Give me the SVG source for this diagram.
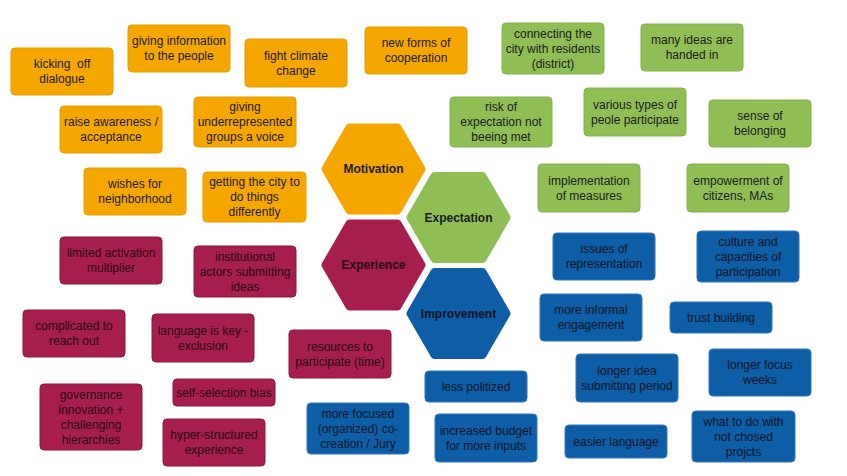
<svg xmlns="http://www.w3.org/2000/svg" xmlns:xlink="http://www.w3.org/1999/xlink" width="847" height="476" viewBox="0 0 847 476">
<style>
.box{stroke-width:1}
.o{fill:#F5A700;stroke:#E79C00}
.g{fill:#8FBE55;stroke:#83B14A}
.r{fill:#A61E4D;stroke:#8C173F}
.b{fill:#0E5DA7;stroke:#2F78BF}
.hx{stroke-width:8;stroke-linejoin:round}
.ho{fill:#F5A700;stroke:#F5A700}
.hg{fill:#8FBE55;stroke:#8FBE55}
.hr{fill:#A61E4D;stroke:#A61E4D}
.hb{fill:#0E5DA7;stroke:#0E5DA7}
text{font-family:"Liberation Sans",Arial,sans-serif;font-size:12px;text-anchor:middle;fill:#1b1b1b}
.rt{fill:#2a0a12}
.bt{fill:#0b1526}
.hl{font-weight:bold;font-size:12px}
</style>
<defs>
<polygon id="hex" points="-48,0 -24,-41.6 24,-41.6 48,0 24,41.6 -24,41.6"/>
</defs>
<rect width="847" height="476" fill="#ffffff"/>
<g id="connectors"/>

<g id="hex-motivation"><use href="#hex" x="373.5" y="169" class="hx ho"/><text class="hl" x="373.5" y="173.3">Motivation</text></g>
<g id="hex-expectation"><use href="#hex" x="458.5" y="217.5" class="hx hg"/><text class="hl" x="458.5" y="221.8">Expectation</text></g>
<g id="hex-experience"><use href="#hex" x="373.5" y="265" class="hx hr"/><text class="hl rt" x="373.5" y="269.3">Experience</text></g>
<g id="hex-improvement"><use href="#hex" x="458.5" y="313.5" class="hx hb"/><text class="hl bt" x="458.5" y="317.8">Improvement</text></g>

<g id="n-kicking"><rect class="box o" x="11" y="48" width="102" height="47" rx="4"/><text x="62" y="68.3" xml:space="preserve">kicking  off</text><text x="62" y="83.3">dialogue</text></g>
<g id="n-info"><rect class="box o" x="128" y="25" width="102" height="47" rx="4"/><text x="179" y="45.3">giving information</text><text x="179" y="60.3">to the people</text></g>
<g id="n-climate"><rect class="box o" x="245" y="39" width="102" height="48" rx="4"/><text x="296" y="59.8">fight climate</text><text x="296" y="74.8">change</text></g>
<g id="n-coop"><rect class="box o" x="365" y="27" width="102" height="47" rx="4"/><text x="416" y="47.3">new forms of</text><text x="416" y="62.3">cooperation</text></g>
<g id="n-awareness"><rect class="box o" x="60" y="106" width="102" height="47" rx="4"/><text x="111" y="126.3">raise awareness /</text><text x="111" y="141.3">acceptance</text></g>
<g id="n-voice"><rect class="box o" x="194" y="97" width="102" height="50" rx="4"/><text x="245" y="111.3">giving</text><text x="245" y="126.3">underrepresented</text><text x="245" y="141.3">groups a voice</text></g>
<g id="n-wishes"><rect class="box o" x="84" y="168" width="102" height="47" rx="4"/><text x="135" y="188.3">wishes for</text><text x="135" y="203.3">neighborhood</text></g>
<g id="n-city"><rect class="box o" x="203" y="172" width="103" height="50" rx="4"/><text x="254.5" y="186.3">getting the city to</text><text x="254.5" y="201.3">do things</text><text x="254.5" y="216.3">differently</text></g>

<g id="n-connecting"><rect class="box g" x="502" y="23" width="102" height="51" rx="4"/><text x="553" y="37.8">connecting the</text><text x="553" y="52.8">city with residents</text><text x="553" y="67.8">(district)</text></g>
<g id="n-many"><rect class="box g" x="641" y="24" width="102" height="47" rx="4"/><text x="692" y="44.3">many ideas are</text><text x="692" y="59.3">handed in</text></g>
<g id="n-risk"><rect class="box g" x="450" y="97" width="102" height="50" rx="4"/><text x="501" y="111.3">risk of</text><text x="501" y="126.3">expectation not</text><text x="501" y="141.3">beeing met</text></g>
<g id="n-various"><rect class="box g" x="584" y="88" width="102" height="48" rx="4"/><text x="635" y="108.8">various types of</text><text x="635" y="123.8">peole participate</text></g>
<g id="n-belonging"><rect class="box g" x="709" y="100" width="102" height="47" rx="4"/><text x="760" y="120.3">sense of</text><text x="760" y="135.3">belonging</text></g>
<g id="n-implementation"><rect class="box g" x="538" y="164" width="102" height="48" rx="4"/><text x="589" y="184.8">implementation</text><text x="589" y="199.8">of measures</text></g>
<g id="n-empowerment"><rect class="box g" x="687" y="164" width="102" height="48" rx="4"/><text x="738" y="184.8">empowerment of</text><text x="738" y="199.8">citizens, MAs</text></g>

<g id="n-limited"><rect class="box r" x="60" y="237" width="102" height="47" rx="4"/><text class="rt" x="111" y="257.3">limited activation</text><text class="rt" x="111" y="272.3">multiplier</text></g>
<g id="n-institutional"><rect class="box r" x="194" y="246" width="102" height="51" rx="4"/><text class="rt" x="245" y="260.8">institutional</text><text class="rt" x="245" y="275.8">actors submitting</text><text class="rt" x="245" y="290.8">ideas</text></g>
<g id="n-complicated"><rect class="box r" x="23" y="310" width="102" height="47" rx="4"/><text class="rt" x="74" y="330.3">complicated to</text><text class="rt" x="74" y="345.3">reach out</text></g>
<g id="n-language"><rect class="box r" x="152" y="314" width="102" height="48" rx="4"/><text class="rt" x="203" y="334.8">language is key -</text><text class="rt" x="203" y="349.8">exclusion</text></g>
<g id="n-governance"><rect class="box r" x="40" y="384" width="102" height="66" rx="4"/><text class="rt" x="91" y="398.8">governance</text><text class="rt" x="91" y="413.8">innovation +</text><text class="rt" x="91" y="428.8">challenging</text><text class="rt" x="91" y="443.8">hierarchies</text></g>
<g id="n-selfselection"><rect class="box r" x="173" y="379" width="102" height="27" rx="4"/><text class="rt" x="224" y="396.8">self-selection bias</text></g>
<g id="n-hyper"><rect class="box r" x="163" y="419" width="102" height="47" rx="4"/><text class="rt" x="214" y="439.3">hyper-structured</text><text class="rt" x="214" y="454.3">experience</text></g>
<g id="n-resources"><rect class="box r" x="289" y="330" width="102" height="48" rx="4"/><text class="rt" x="340" y="350.8">resources to</text><text class="rt" x="340" y="365.8">participate (time)</text></g>

<g id="n-focused"><rect class="box b" x="307" y="403" width="102" height="51" rx="4"/><text class="bt" x="358" y="417.8">more focused</text><text class="bt" x="358" y="432.8">(organized) co-</text><text class="bt" x="358" y="447.8">creation / Jury</text></g>
<g id="n-issues"><rect class="box b" x="553" y="233" width="102" height="47" rx="4"/><text class="bt" x="604" y="253.3">issues of</text><text class="bt" x="604" y="268.3">representation</text></g>
<g id="n-culture"><rect class="box b" x="697" y="231" width="102" height="51" rx="4"/><text class="bt" x="748" y="245.8">culture and</text><text class="bt" x="748" y="260.8">capacities of</text><text class="bt" x="748" y="275.8">participation</text></g>
<g id="n-informal"><rect class="box b" x="540" y="294" width="102" height="47" rx="4"/><text class="bt" x="591" y="314.3">more informal</text><text class="bt" x="591" y="329.3">engagement</text></g>
<g id="n-trust"><rect class="box b" x="670" y="302" width="102" height="31" rx="4"/><text class="bt" x="721" y="321.8">trust building</text></g>
<g id="n-less"><rect class="box b" x="425" y="371" width="102" height="31" rx="4"/><text class="bt" x="476" y="390.8">less politized</text></g>
<g id="n-longeridea"><rect class="box b" x="576" y="354" width="102" height="48" rx="4"/><text class="bt" x="627" y="374.8">longer idea</text><text class="bt" x="627" y="389.8">submitting period</text></g>
<g id="n-focusweeks"><rect class="box b" x="709" y="349" width="102" height="47" rx="4"/><text class="bt" x="760" y="369.3">longer focus</text><text class="bt" x="760" y="384.3">weeks</text></g>
<g id="n-budget"><rect class="box b" x="435" y="414" width="102" height="48" rx="4"/><text class="bt" x="486" y="434.8">increased budget</text><text class="bt" x="486" y="449.8">for more inputs</text></g>
<g id="n-easier"><rect class="box b" x="565" y="425" width="102" height="33" rx="4"/><text class="bt" x="616" y="445.8">easier language</text></g>
<g id="n-whattodo"><rect class="box b" x="692" y="411" width="103" height="51" rx="4"/><text class="bt" x="743.5" y="425.8">what to do with</text><text class="bt" x="743.5" y="440.8">not chosed</text><text class="bt" x="743.5" y="455.8">projcts</text></g>
</svg>
